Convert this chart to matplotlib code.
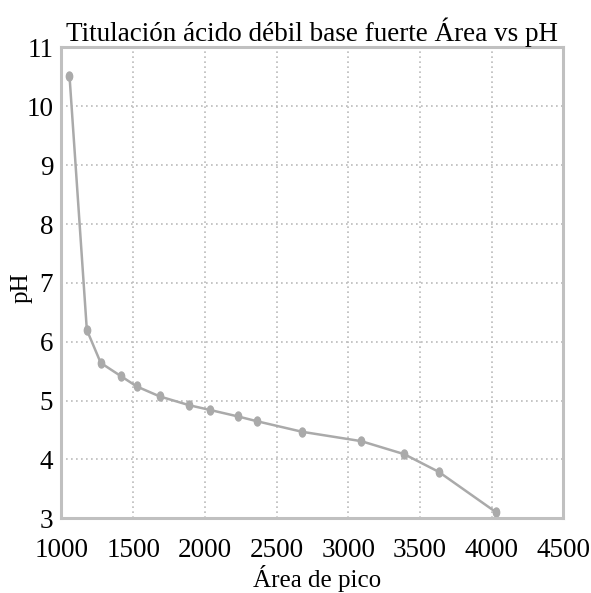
import matplotlib
matplotlib.use('Agg')
import matplotlib.pyplot as plt
from matplotlib.path import Path

# datos
area = [1056, 1177, 1274, 1418, 1525, 1686, 1893, 2037, 2232, 2362, 2678, 3092, 3390, 3631, 4033]
ph = [10.52, 6.2, 5.64, 5.41, 5.24, 5.07, 4.92, 4.84, 4.73, 4.65, 4.47, 4.31, 4.09, 3.79, 3.10]
xticks = [1000, 1500, 2000, 2500, 3000, 3500, 4000, 4500]
yticks = [3, 4, 5, 6, 7, 8, 9, 10, 11]

plt.rcParams['font.family'] = ['Liberation Serif', 'DejaVu Serif']

# marcador elíptico (más alto que ancho)
circ = Path.unit_circle()
elipse = Path(circ.vertices * [0.7, 1.0], circ.codes)

fig = plt.figure(figsize=(5.91, 5.93), dpi=100)
ax = fig.add_axes([0.104, 0.126, 0.849, 0.794])

ax.plot(area, ph, color='#aaaaaa', lw=1.8, marker=elipse, markersize=6.5,
        markerfacecolor='#aaaaaa', markeredgecolor='#aaaaaa')

ax.set_xlim(1000, 4500)
ax.set_ylim(3, 11)
ax.set_xticks(xticks)
ax.set_yticks(yticks)
ax.tick_params(axis='x', length=0, labelsize=19.5, pad=14)
ax.tick_params(axis='y', length=0, labelsize=19.5, pad=6)
ax.grid(color='#bbbbbb', linestyle=(0, (1, 2)), lw=1.2)

for s in ax.spines.values():
    s.set_color('#c0c0c0')
    s.set_linewidth(2.2)

ax.set_title('Titulación ácido débil base fuerte Área vs pH', fontsize=19.5, pad=4)
ax.set_xlabel('Área de pico', fontsize=18)
ax.set_ylabel('pH', fontsize=18)
ax.xaxis.set_label_coords(0.51, -0.099)
ax.yaxis.set_label_coords(-0.057, 0.49)

fig.savefig('out.png', dpi=100)
